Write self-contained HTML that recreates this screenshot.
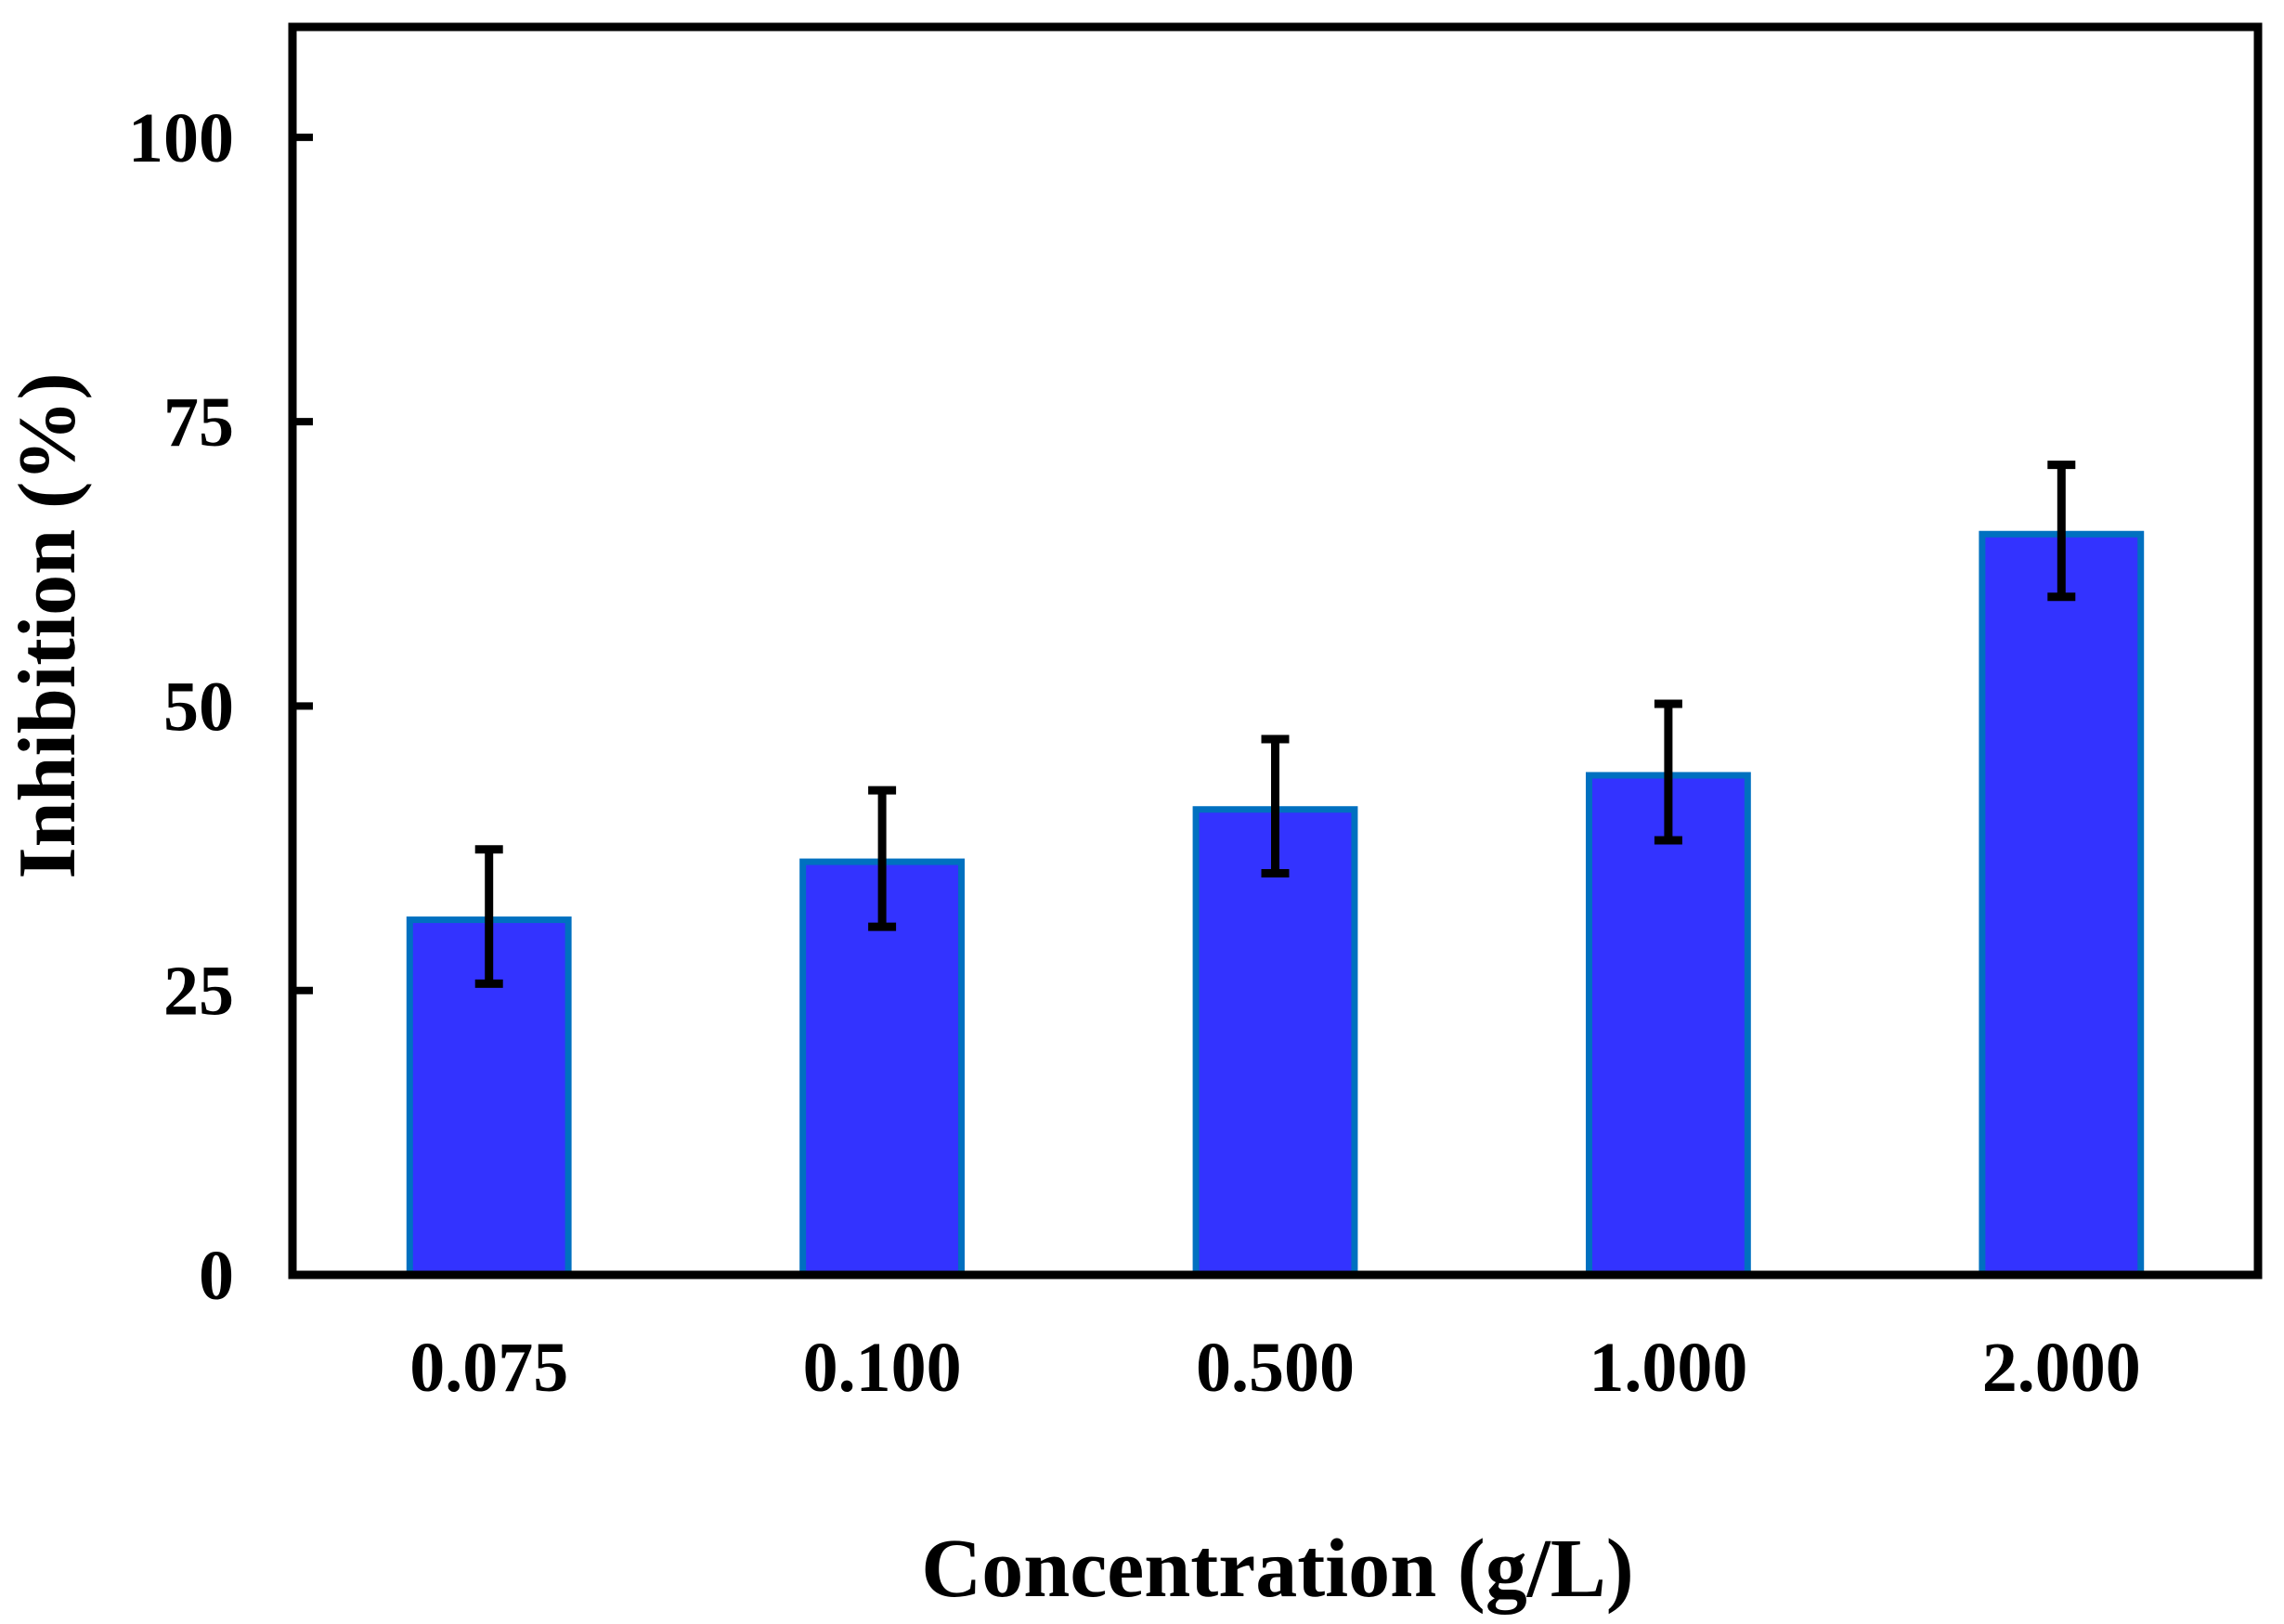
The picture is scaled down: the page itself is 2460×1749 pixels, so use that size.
<!DOCTYPE html>
<html><head><meta charset="utf-8"><style>
html,body{margin:0;padding:0;background:#fff;}
svg{display:block;}
text{font-family:"Liberation Serif",serif;font-weight:bold;fill:#000;}
</style></head><body>
<svg id="chart" width="2460" height="1749" viewBox="0 0 2460 1749" xmlns="http://www.w3.org/2000/svg">
<g id="bars"></g>
<g id="errs"></g>
<rect x="315" y="29" width="2117" height="1344" fill="none" stroke="#000" stroke-width="9"/>
<g id="yaxis"></g>
<g id="xaxis"></g>
<text x="1376" y="1719" font-size="90" text-anchor="middle">Concentration (g/L)</text>
<text transform="translate(80,674) rotate(-90)" font-size="88" text-anchor="middle">Inhibition (%)</text>
</svg>
<script>
const categories = ["0.075","0.100","0.500","1.000","2.000"];
const values = [31.5, 36.6, 41.2, 44.2, 65.4];
const errors = [5.9, 6.0, 5.9, 6.0, 5.8];
const yTicks = [0, 25, 50, 75, 100];

const NS = "http://www.w3.org/2000/svg";
const X0 = 315, X1 = 2432, Y0 = 1373, Y1 = 29, YMAX = 109.7;
const band = (X1 - X0) / categories.length;
function xCenter(i){ return X0 + band * (i + 0.5); }
function yScale(v){ return Y0 - (v / YMAX) * (Y0 - Y1); }
function mk(tag, attrs, parent){
  const e = document.createElementNS(NS, tag);
  for (const k in attrs) e.setAttribute(k, attrs[k]);
  parent.appendChild(e);
  return e;
}
const gb = document.getElementById('bars');
const ge = document.getElementById('errs');
const gy = document.getElementById('yaxis');
const gx = document.getElementById('xaxis');
const bw = band * 0.42;
categories.forEach((c, i) => {
  const cx = xCenter(i);
  const yt = yScale(values[i]);
  const r = mk('rect', {x: cx - bw/2 + 3.5, y: yt + 3.5, width: bw - 7, height: Y0 - yt - 3.5, fill: '#3333ff', stroke: '#0070c0', 'stroke-width': 7}, gb);
  
  
  const g = mk('g', {}, ge);
  
  
  const hi = yScale(values[i] + errors[i]), lo = yScale(values[i] - errors[i]);
  mk('line', {x1: cx, x2: cx, y1: hi, y2: lo, stroke: '#000', 'stroke-width': 9}, g);
  mk('line', {x1: cx - 15, x2: cx + 15, y1: hi, y2: hi, stroke: '#000', 'stroke-width': 9}, g);
  mk('line', {x1: cx - 15, x2: cx + 15, y1: lo, y2: lo, stroke: '#000', 'stroke-width': 9}, g);
  const t = mk('text', {x: cx, y: 1498, 'font-size': 76, 'text-anchor': 'middle'}, gx);
  t.textContent = c;
  
  
});
yTicks.forEach(v => {
  const y = yScale(v);
  if (v > 0) {
    const tk = mk('line', {x1: X0, x2: X0 + 22, y1: y, y2: y, stroke: '#000', 'stroke-width': 8}, gy);
    
    
  }
  const t = mk('text', {x: 252, y: y + 26, 'font-size': 76, 'text-anchor': 'end'}, gy);
  t.textContent = v;
  
  
});
</script>
</body></html>
